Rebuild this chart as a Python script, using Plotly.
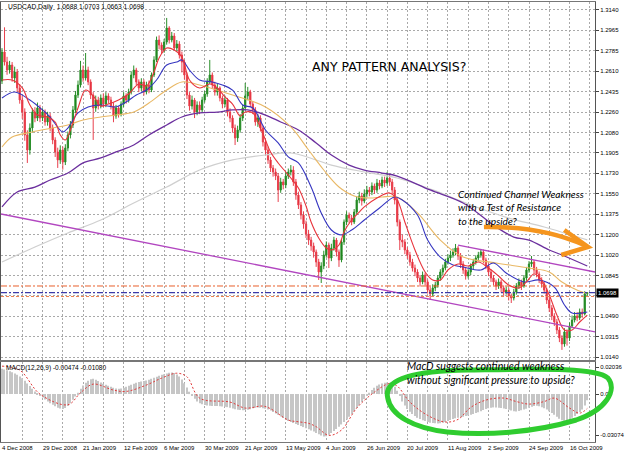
import plotly.graph_objects as go

# ---------------- DATA ----------------
closes = [1.2777, 1.2690, 1.2621, 1.2664, 1.2552, 1.2604, 1.2466, 1.2362, 1.2258, 1.2060,
1.1930, 1.2120, 1.2258, 1.2206, 1.2293, 1.2206, 1.2258, 1.2172, 1.2224, 1.2120,
1.2016, 1.1913, 1.1844, 1.1930, 1.1826, 1.1947, 1.2060, 1.2146, 1.2276, 1.2405,
1.2492, 1.2621, 1.2552, 1.2621, 1.2518, 1.2405, 1.2293, 1.2362, 1.2310, 1.2379,
1.2327, 1.2397, 1.2362, 1.2310, 1.2224, 1.2293, 1.2241, 1.2327, 1.2397, 1.2362,
1.2431, 1.2578, 1.2621, 1.2518, 1.2466, 1.2518, 1.2431, 1.2492, 1.2448, 1.2578,
1.2708, 1.2880, 1.2837, 1.2794, 1.2863, 1.2984, 1.2880, 1.2915, 1.2811, 1.2846,
1.2751, 1.2690, 1.2578, 1.2405, 1.2310, 1.2362, 1.2258, 1.2319, 1.2276, 1.2362,
1.2414, 1.2518, 1.2578, 1.2492, 1.2431, 1.2466, 1.2379, 1.2327, 1.2362, 1.2258,
1.2206, 1.2120, 1.2034, 1.2103, 1.2206, 1.2293, 1.2397, 1.2431, 1.2327, 1.2276,
1.2172, 1.2206, 1.2120, 1.1999, 1.1930, 1.1844, 1.1774, 1.1740, 1.1705, 1.1584,
1.1654, 1.1628, 1.1705, 1.1740, 1.1757, 1.1654, 1.1541, 1.1455, 1.1368, 1.1291,
1.1204, 1.1152, 1.1101, 1.1049, 1.0962, 1.0876, 1.0928, 1.1023, 1.1109, 1.0997,
1.1083, 1.1152, 1.1049, 1.0980, 1.1135, 1.1308, 1.1368, 1.1342, 1.1308, 1.1394,
1.1498, 1.1533, 1.1489, 1.1550, 1.1584, 1.1567, 1.1619, 1.1584, 1.1645, 1.1619,
1.1671, 1.1645, 1.1688, 1.1654, 1.1584, 1.1498, 1.1308, 1.1152, 1.1135, 1.1066,
1.1023, 1.0962, 1.0910, 1.0876, 1.0824, 1.0790, 1.0850, 1.0790, 1.0720, 1.0686,
1.0738, 1.0764, 1.0824, 1.0876, 1.0910, 1.0962, 1.0997, 1.1023, 1.1049, 1.1083,
1.1014, 1.0945, 1.0893, 1.0841, 1.0876, 1.0928, 1.0962, 1.0997, 1.1023, 1.1049,
1.0980, 1.0928, 1.0876, 1.0824, 1.0790, 1.0755, 1.0790, 1.0738, 1.0703, 1.0720,
1.0669, 1.0651, 1.0703, 1.0755, 1.0790, 1.0755, 1.0824, 1.0893, 1.0945, 1.0962,
1.0893, 1.0859, 1.0807, 1.0772, 1.0720, 1.0634, 1.0565, 1.0496, 1.0444, 1.0375,
1.0306, 1.0254, 1.0358, 1.0306, 1.0410, 1.0461, 1.0496, 1.0479, 1.0530, 1.0513,
1.0688, 1.0698]

opens = [1.2526, 1.2777, 1.2690, 1.2621, 1.2664, 1.2552, 1.2604, 1.2466, 1.2362, 1.2258,
1.2060, 1.1930, 1.2120, 1.2258, 1.2206, 1.2293, 1.2206, 1.2258, 1.2172, 1.2224,
1.2120, 1.2016, 1.1913, 1.1844, 1.1930, 1.1826, 1.1947, 1.2060, 1.2146, 1.2276,
1.2405, 1.2492, 1.2621, 1.2552, 1.2621, 1.2518, 1.2405, 1.2293, 1.2362, 1.2310,
1.2379, 1.2327, 1.2397, 1.2362, 1.2310, 1.2224, 1.2293, 1.2241, 1.2327, 1.2397,
1.2362, 1.2431, 1.2578, 1.2621, 1.2518, 1.2466, 1.2518, 1.2431, 1.2492, 1.2448,
1.2578, 1.2708, 1.2880, 1.2837, 1.2794, 1.2863, 1.2984, 1.2880, 1.2915, 1.2811,
1.2846, 1.2751, 1.2690, 1.2578, 1.2405, 1.2310, 1.2362, 1.2258, 1.2319, 1.2276,
1.2362, 1.2414, 1.2518, 1.2578, 1.2492, 1.2431, 1.2466, 1.2379, 1.2327, 1.2362,
1.2258, 1.2206, 1.2120, 1.2034, 1.2103, 1.2206, 1.2293, 1.2397, 1.2431, 1.2327,
1.2276, 1.2172, 1.2206, 1.2120, 1.1999, 1.1930, 1.1844, 1.1774, 1.1740, 1.1705,
1.1584, 1.1654, 1.1628, 1.1705, 1.1740, 1.1757, 1.1654, 1.1541, 1.1455, 1.1368,
1.1291, 1.1204, 1.1152, 1.1101, 1.1049, 1.0962, 1.0876, 1.0928, 1.1023, 1.1109,
1.0997, 1.1083, 1.1152, 1.1049, 1.0980, 1.1135, 1.1308, 1.1368, 1.1342, 1.1308,
1.1394, 1.1498, 1.1533, 1.1489, 1.1550, 1.1584, 1.1567, 1.1619, 1.1584, 1.1645,
1.1619, 1.1671, 1.1645, 1.1688, 1.1654, 1.1584, 1.1498, 1.1308, 1.1152, 1.1135,
1.1066, 1.1023, 1.0962, 1.0910, 1.0876, 1.0824, 1.0790, 1.0850, 1.0790, 1.0720,
1.0686, 1.0738, 1.0764, 1.0824, 1.0876, 1.0910, 1.0962, 1.0997, 1.1023, 1.1049,
1.1083, 1.1014, 1.0945, 1.0893, 1.0841, 1.0876, 1.0928, 1.0962, 1.0997, 1.1023,
1.1049, 1.0980, 1.0928, 1.0876, 1.0824, 1.0790, 1.0755, 1.0790, 1.0738, 1.0703,
1.0720, 1.0669, 1.0651, 1.0703, 1.0755, 1.0790, 1.0755, 1.0824, 1.0893, 1.0945,
1.0962, 1.0893, 1.0859, 1.0807, 1.0772, 1.0720, 1.0634, 1.0565, 1.0496, 1.0444,
1.0375, 1.0306, 1.0254, 1.0358, 1.0306, 1.0410, 1.0461, 1.0496, 1.0479, 1.0530,
1.0513, 1.0688]

highs = [1.2810, 1.2990, 1.2735, 1.2700, 1.2690, 1.2650, 1.2630, 1.2500, 1.2400, 1.2290,
1.2100, 1.2160, 1.2290, 1.2300, 1.2340, 1.2320, 1.2290, 1.2280, 1.2260, 1.2250,
1.2150, 1.2040, 1.1950, 1.1970, 1.1960, 1.1980, 1.2090, 1.2180, 1.2310, 1.2440,
1.2530, 1.2700, 1.2660, 1.2768, 1.2650, 1.2540, 1.2430, 1.2400, 1.2390, 1.2410,
1.2420, 1.2430, 1.2420, 1.2390, 1.2340, 1.2320, 1.2310, 1.2350, 1.2430, 1.2420,
1.2460, 1.2610, 1.2660, 1.2640, 1.2540, 1.2550, 1.2540, 1.2520, 1.2530, 1.2600,
1.2740, 1.2910, 1.2920, 1.2860, 1.2890, 1.3071, 1.3000, 1.2950, 1.2940, 1.2880,
1.2870, 1.2780, 1.2710, 1.2600, 1.2430, 1.2400, 1.2380, 1.2350, 1.2350, 1.2390,
1.2440, 1.2550, 1.2708, 1.2600, 1.2520, 1.2500, 1.2480, 1.2400, 1.2400, 1.2380,
1.2290, 1.2230, 1.2150, 1.2140, 1.2240, 1.2320, 1.2509, 1.2475, 1.2450, 1.2350,
1.2300, 1.2240, 1.2230, 1.2140, 1.2030, 1.1960, 1.1870, 1.1800, 1.1770, 1.1730,
1.1690, 1.1680, 1.1740, 1.1770, 1.1800, 1.1790, 1.1680, 1.1570, 1.1480, 1.1400,
1.1320, 1.1240, 1.1180, 1.1130, 1.1070, 1.0990, 1.0960, 1.1060, 1.1140, 1.1130,
1.1120, 1.1180, 1.1170, 1.1070, 1.1160, 1.1330, 1.1400, 1.1390, 1.1370, 1.1420,
1.1530, 1.1570, 1.1560, 1.1590, 1.1620, 1.1610, 1.1650, 1.1640, 1.1680, 1.1670,
1.1700, 1.1700, 1.1740, 1.1720, 1.1680, 1.1610, 1.1520, 1.1330, 1.1200, 1.1160,
1.1090, 1.1050, 1.0990, 1.0940, 1.0900, 1.0850, 1.0880, 1.0870, 1.0810, 1.0750,
1.0770, 1.0790, 1.0850, 1.0900, 1.0940, 1.0990, 1.1030, 1.1060, 1.1080, 1.1118,
1.1100, 1.1040, 1.0970, 1.0920, 1.0900, 1.0950, 1.0990, 1.1020, 1.1050, 1.1075,
1.1070, 1.1000, 1.0950, 1.0900, 1.0850, 1.0810, 1.0820, 1.0810, 1.0760, 1.0750,
1.0740, 1.0690, 1.0730, 1.0780, 1.0820, 1.0810, 1.0850, 1.0920, 1.0970, 1.1014,
1.0980, 1.0920, 1.0880, 1.0830, 1.0790, 1.0740, 1.0660, 1.0590, 1.0520, 1.0470,
1.0400, 1.0330, 1.0390, 1.0380, 1.0440, 1.0500, 1.0530, 1.0530, 1.0560, 1.0560,
1.0710, 1.0703]

lows = [1.2500, 1.2660, 1.2580, 1.2590, 1.2520, 1.2510, 1.2430, 1.2330, 1.2200, 1.2010,
1.1818, 1.1890, 1.2080, 1.2170, 1.2180, 1.2170, 1.2180, 1.2140, 1.2140, 1.2090,
1.1980, 1.1870, 1.1775, 1.1810, 1.1760, 1.1800, 1.1920, 1.2030, 1.2120, 1.2250,
1.2380, 1.2470, 1.2520, 1.2530, 1.2490, 1.2370, 1.2017, 1.2260, 1.2280, 1.2290,
1.2300, 1.2300, 1.2330, 1.2280, 1.2170, 1.2200, 1.2210, 1.2220, 1.2300, 1.2330,
1.2340, 1.2410, 1.2550, 1.2490, 1.2430, 1.2440, 1.2400, 1.2410, 1.2420, 1.2430,
1.2560, 1.2690, 1.2800, 1.2760, 1.2770, 1.2840, 1.2850, 1.2860, 1.2790, 1.2780,
1.2720, 1.2600, 1.2540, 1.2370, 1.2270, 1.2280, 1.2206, 1.2230, 1.2240, 1.2250,
1.2340, 1.2390, 1.2500, 1.2460, 1.2400, 1.2400, 1.2350, 1.2290, 1.2300, 1.2220,
1.2170, 1.2080, 1.1973, 1.2000, 1.2080, 1.2180, 1.2270, 1.2360, 1.2300, 1.2240,
1.2140, 1.2130, 1.2090, 1.1960, 1.1890, 1.1810, 1.1740, 1.1700, 1.1670, 1.1481,
1.1560, 1.1590, 1.1600, 1.1680, 1.1710, 1.1620, 1.1500, 1.1420, 1.1330, 1.1250,
1.1170, 1.1110, 1.1060, 1.1000, 1.0920, 1.0807, 1.0781, 1.0900, 1.1000, 1.0910,
1.0970, 1.1060, 1.1010, 1.0920, 1.0960, 1.1110, 1.1280, 1.1300, 1.1280, 1.1290,
1.1370, 1.1470, 1.1450, 1.1470, 1.1520, 1.1530, 1.1540, 1.1550, 1.1560, 1.1590,
1.1600, 1.1610, 1.1620, 1.1620, 1.1550, 1.1460, 1.1270, 1.1066, 1.1090, 1.1030,
1.0990, 1.0930, 1.0880, 1.0840, 1.0790, 1.0750, 1.0770, 1.0760, 1.0690, 1.0634,
1.0660, 1.0710, 1.0740, 1.0800, 1.0850, 1.0890, 1.0940, 1.0970, 1.1000, 1.1020,
1.0980, 1.0910, 1.0860, 1.0810, 1.0820, 1.0850, 1.0900, 1.0940, 1.0970, 1.1000,
1.0950, 1.0900, 1.0840, 1.0790, 1.0760, 1.0720, 1.0730, 1.0700, 1.0670, 1.0680,
1.0630, 1.0608, 1.0630, 1.0680, 1.0730, 1.0720, 1.0740, 1.0800, 1.0870, 1.0920,
1.0860, 1.0830, 1.0780, 1.0740, 1.0690, 1.0600, 1.0530, 1.0460, 1.0410, 1.0340,
1.0270, 1.0203, 1.0230, 1.0240, 1.0280, 1.0390, 1.0440, 1.0450, 1.0460, 1.0480,
1.0500, 1.0663]

# moving averages (bar index, price)
red_ma_i = [0, 4, 8, 11, 14, 18, 21, 23, 25, 27, 30, 33, 36, 39, 42, 46, 50, 54, 57, 60, 62, 65, 68, 71, 74, 78,
            82, 85, 88, 91, 94, 96, 99, 101, 104, 106, 109, 112, 114, 117, 120, 122, 125, 128, 130, 133, 135, 138,
            141, 143, 148, 153, 156, 159, 163, 167, 170, 173, 176, 180, 184, 188, 192, 196, 200, 204, 207, 210, 213,
            216, 219, 222, 225, 228, 231]
red_ma_v = [1.2535, 1.2535, 1.2466, 1.2319, 1.2232, 1.2215, 1.2172, 1.2060, 1.2016, 1.2103, 1.2293, 1.2448, 1.2397,
            1.2310, 1.2327, 1.2362, 1.2414, 1.2500, 1.2483, 1.2604, 1.2725, 1.2811, 1.2794, 1.2734, 1.2535, 1.2466,
            1.2500, 1.2466, 1.2388, 1.2327, 1.2224, 1.2258, 1.2250, 1.2172, 1.2016, 1.1913, 1.1818, 1.1740, 1.1688,
            1.1602, 1.1446, 1.1308, 1.1170, 1.1083, 1.1066, 1.1109, 1.1222, 1.1325, 1.1394, 1.1438, 1.1515, 1.1559,
            1.1498, 1.1308, 1.1066, 1.0876, 1.0807, 1.0807, 1.0893, 1.0945, 1.0928, 1.0962, 1.0910, 1.0841, 1.0764,
            1.0738, 1.0790, 1.0859, 1.0807, 1.0677, 1.0504, 1.0375, 1.0375, 1.0444, 1.0504]

blue_ma_i = [0, 5, 11, 16, 19, 24, 26, 30, 34, 39, 45, 49, 53, 57, 61, 65, 69, 71, 74, 78, 83, 87, 91, 95, 99, 104,
             109, 113, 117, 122, 126, 130, 134, 138, 143, 149, 155, 158, 164, 168, 173, 178, 182, 189, 194, 199, 206,
             212, 218, 222, 225, 231]
blue_ma_v = [1.2379, 1.2431, 1.2362, 1.2276, 1.2215, 1.2086, 1.2120, 1.2250, 1.2302, 1.2319, 1.2302, 1.2345, 1.2405,
             1.2448, 1.2535, 1.2664, 1.2690, 1.2708, 1.2621, 1.2535, 1.2518, 1.2492, 1.2448, 1.2319, 1.2293, 1.2103,
             1.1991, 1.1870, 1.1818, 1.1610, 1.1386, 1.1239, 1.1196, 1.1239, 1.1325, 1.1429, 1.1524, 1.1498, 1.1368,
             1.1152, 1.1005, 1.0936, 1.0919, 1.0893, 1.0954, 1.0867, 1.0790, 1.0807, 1.0746, 1.0591, 1.0522, 1.0530]

tan_ma_i = [0, 4, 12, 20, 26, 32, 39, 45, 52, 58, 65, 71, 78, 91, 104, 114, 121, 127, 133, 139, 145, 150, 156, 164,
            173, 182, 195, 208, 216, 221, 229, 231]
tan_ma_v = [1.1956, 1.2042, 1.2086, 1.2120, 1.2146, 1.2189, 1.2215, 1.2232, 1.2258, 1.2336, 1.2448, 1.2518, 1.2492,
            1.2405, 1.2302, 1.2129, 1.1930, 1.1757, 1.1610, 1.1533, 1.1515, 1.1524, 1.1524, 1.1386, 1.1152, 1.1005,
            1.0954, 1.0910, 1.0876, 1.0790, 1.0703, 1.0694]

purple_ma_i = [0, 6, 13, 19, 26, 32, 39, 45, 52, 58, 65, 71, 78, 85, 91, 97, 104, 110, 117, 124, 130, 137, 143, 150,
               156, 169, 182, 195, 202, 208, 216, 221, 231]
purple_ma_v = [1.1438, 1.1567, 1.1610, 1.1671, 1.1731, 1.1818, 1.1861, 1.1913, 1.1973, 1.2060, 1.2146, 1.2215, 1.2250,
               1.2258, 1.2276, 1.2276, 1.2232, 1.2172, 1.2103, 1.1991, 1.1887, 1.1800, 1.1757, 1.1731, 1.1705, 1.1585,
               1.1472, 1.1265, 1.1178, 1.1152, 1.1066, 1.1023, 1.0928]

gray_ma_i = [0, 13, 26, 39, 52, 65, 78, 91, 104, 114, 124, 130, 143, 156, 170, 185, 200, 214, 231]
gray_ma_v = [1.0962, 1.1092, 1.1213, 1.1325, 1.1472, 1.1610, 1.1757, 1.1844, 1.1887, 1.1904, 1.1844, 1.1800, 1.1740,
             1.1688, 1.1585, 1.1455, 1.1342, 1.1265, 1.1153]

# trend lines (bar index, price)
trend_low_i = [-0.4, 234.1]
trend_low_v = [1.1377, 1.0358]
trend_up_i = [180.0, 234.1]
trend_up_v = [1.1109, 1.0876]

# horizontal levels
level_dashdot = 1.0755
level_bid = 1.0698
level_dotted = 1.0664

# MACD histogram (main) and signal
macd_hist = [0.0190, 0.0185, 0.0180, 0.0172, 0.0165, 0.0155, 0.0145, 0.0132, 0.0120, 0.0100,
0.0080, 0.0060, 0.0040, 0.0020, 0.0005, -0.0010, -0.0025, -0.0040, -0.0055, -0.0068,
-0.0080, -0.0092, -0.0102, -0.0108, -0.0112, -0.0105, -0.0090, -0.0068, -0.0042, -0.0018,
0.0010, 0.0040, 0.0065, 0.0085, 0.0100, 0.0112, 0.0115, 0.0108, 0.0098, 0.0088,
0.0078, 0.0070, 0.0062, 0.0055, 0.0048, 0.0042, 0.0040, 0.0042, 0.0048, 0.0055,
0.0062, 0.0070, 0.0078, 0.0085, 0.0090, 0.0094, 0.0098, 0.0102, 0.0108, 0.0115,
0.0122, 0.0130, 0.0138, 0.0145, 0.0150, 0.0155, 0.0160, 0.0162, 0.0158, 0.0148,
0.0132, 0.0110, 0.0082, 0.0050, 0.0018, -0.0010, -0.0035, -0.0055, -0.0068, -0.0076,
-0.0082, -0.0086, -0.0088, -0.0089, -0.0090, -0.0090, -0.0091, -0.0093, -0.0095, -0.0098,
-0.0102, -0.0108, -0.0114, -0.0118, -0.0120, -0.0121, -0.0120, -0.0118, -0.0113, -0.0107,
-0.0102, -0.0100, -0.0102, -0.0106, -0.0110, -0.0115, -0.0124, -0.0134, -0.0145, -0.0156,
-0.0168, -0.0180, -0.0192, -0.0202, -0.0210, -0.0218, -0.0225, -0.0232, -0.0240, -0.0248,
-0.0256, -0.0264, -0.0273, -0.0282, -0.0292, -0.0302, -0.0312, -0.0318, -0.0316, -0.0305,
-0.0292, -0.0278, -0.0262, -0.0245, -0.0228, -0.0210, -0.0190, -0.0170, -0.0150, -0.0128,
-0.0105, -0.0082, -0.0060, -0.0036, -0.0012, 0.0010, 0.0030, 0.0048, 0.0062, 0.0072,
0.0080, 0.0085, 0.0088, 0.0086, 0.0075, 0.0055, 0.0025, -0.0015, -0.0055, -0.0085,
-0.0112, -0.0132, -0.0150, -0.0165, -0.0178, -0.0188, -0.0196, -0.0203, -0.0210, -0.0215,
-0.0218, -0.0220, -0.0221, -0.0220, -0.0216, -0.0210, -0.0202, -0.0195, -0.0188, -0.0182,
-0.0178, -0.0174, -0.0170, -0.0165, -0.0160, -0.0155, -0.0150, -0.0143, -0.0136, -0.0128,
-0.0120, -0.0112, -0.0106, -0.0102, -0.0100, -0.0100, -0.0102, -0.0105, -0.0108, -0.0112,
-0.0118, -0.0124, -0.0128, -0.0130, -0.0127, -0.0122, -0.0116, -0.0110, -0.0102, -0.0095,
-0.0090, -0.0088, -0.0092, -0.0098, -0.0106, -0.0115, -0.0128, -0.0142, -0.0155, -0.0170,
-0.0185, -0.0196, -0.0200, -0.0198, -0.0190, -0.0178, -0.0164, -0.0150, -0.0135, -0.0115,
-0.0085, -0.0047]

signal_i = [0, 7, 15, 26, 31, 36, 44, 49, 57, 63, 69, 73, 78, 90, 96, 103, 106, 113, 117, 121, 124, 129, 134, 140,
            147, 153, 156, 161, 168, 175, 180, 185, 191, 198, 203, 208, 214, 218, 224, 228, 231]
signal_v = [0.0210, 0.0180, 0.0000, -0.0080, 0.0010, 0.0075, 0.0030, 0.0020, 0.0068, 0.0120, 0.0157, 0.0130,
            -0.0030, -0.0060, -0.0105, -0.0090, -0.0110, -0.0195, -0.0208, -0.0220, -0.0245, -0.0310, -0.0270,
            -0.0105, 0.0015, 0.0080, 0.0060, -0.0060, -0.0160, -0.0210, -0.0190, -0.0100, -0.0045, -0.0030,
            -0.0056, -0.0075, -0.0056, -0.0030, -0.0105, -0.0143, -0.0108]

# axis labels (the 1.0670 label sits under the current-price box, as in the reference)
price_tickvals = [1.0140, 1.03165, 1.04929, 1.06694, 1.08459, 1.10224, 1.11988, 1.13753, 1.15518,
                  1.17282, 1.19047, 1.20812, 1.22576, 1.24341, 1.26106, 1.27871, 1.29635, 1.3140]
price_ticktext = ["1.0140", "1.0315", "1.0490", "", "1.0845", "1.1020", "1.1200", "1.1375", "1.1550",
                  "1.1730", "1.1905", "1.2080", "1.2260", "1.2435", "1.2610", "1.2785", "1.2965", "1.3140"]
macd_tickvals = [0.02036, 0.0, -0.03074]
macd_ticktext = ["0.02036", "0.00", "-0.03074"]
date_label_bars = [0, 16, 32, 48, 64, 80, 96, 112, 128, 144, 160, 176, 192, 208, 224]
date_labels = ["4 Dec 2008", "29 Dec 2008", "21 Jan 2009", "12 Feb 2009", "6 Mar 2009", "30 Mar 2009",
               "21 Apr 2009", "13 May 2009", "4 Jun 2009", "26 Jun 2009", "20 Jul 2009", "11 Aug 2009",
               "2 Sep 2009", "24 Sep 2009", "16 Oct 2009"]

channel_note = ["Continued Channel Weakness", "with a Test of Resistance", "to the upside?"]
macd_note = ["MacD suggests continued weakness", "without significant pressure to upside?"]

# ---------------- LAYOUT GEOMETRY ----------------
W, H = 625, 452
PL, PR, PT, PB = 0, 599, 2, 442
MAIN_BOTTOM_PX, MACD_TOP_PX = 360, 362


def px_x(x):
    return (x - PL) / (PR - PL)


def px_y(y):
    return (PB - y) / (PB - PT)


def path_px(parts):
    out = []
    for p in parts:
        if isinstance(p, str):
            out.append(p)
        else:
            out.append(f"{px_x(p[0]):.5f},{px_y(p[1]):.5f}")
    return " ".join(out)


TICK_FONT = dict(family="Liberation Sans", size=6, color="black")
GRID = dict(showgrid=True, gridcolor="#a9a9a9", griddash="2px,2px", gridwidth=1)

bars = list(range(len(closes)))

fig = go.Figure()

fig.add_trace(go.Candlestick(
    x=bars, open=opens, high=highs, low=lows, close=closes,
    increasing=dict(line=dict(color="#2a8f2a", width=1), fillcolor="#0c780c"),
    decreasing=dict(line=dict(color="#e8404e", width=1), fillcolor="#e4161f"),
    whiskerwidth=0, xaxis="x", yaxis="y", showlegend=False, hoverinfo="skip"))

for xs, ys, col, w in [
    (gray_ma_i, gray_ma_v, "#cfcfcf", 1.2),
    (purple_ma_i, purple_ma_v, "#6b2f9e", 1.3),
    (tan_ma_i, tan_ma_v, "#e9b865", 1.1),
    (blue_ma_i, blue_ma_v, "#3535c0", 1.1),
    (red_ma_i, red_ma_v, "#e8343c", 1.1),
]:
    fig.add_trace(go.Scatter(x=xs, y=ys, mode="lines", line=dict(color=col, width=w, shape="spline"),
                             xaxis="x", yaxis="y", showlegend=False, hoverinfo="skip"))

for xs, ys in [(trend_low_i, trend_low_v), (trend_up_i, trend_up_v)]:
    fig.add_trace(go.Scatter(x=xs, y=ys, mode="lines", line=dict(color="#b246c0", width=1.3),
                             xaxis="x", yaxis="y", showlegend=False, hoverinfo="skip"))

fig.add_trace(go.Bar(x=bars, y=macd_hist, width=0.42, marker=dict(color="#c6c6c6", line=dict(width=0)),
                     xaxis="x2", yaxis="y2", showlegend=False, hoverinfo="skip"))
fig.add_trace(go.Scatter(x=signal_i, y=signal_v, mode="lines",
                         line=dict(color="#e23a3a", width=1, dash="2px,2px", shape="spline"),
                         xaxis="x2", yaxis="y2", showlegend=False, hoverinfo="skip"))

shapes = [
    dict(type="line", xref="paper", yref="y", x0=0, x1=1, y0=level_dashdot, y1=level_dashdot,
         line=dict(color="#e8602c", width=1, dash="6px,2px,2px,2px")),
    dict(type="line", xref="paper", yref="y", x0=0, x1=1, y0=level_bid, y1=level_bid,
         line=dict(color="#3a3aa8", width=1.3, dash="6px,2px,2px,2px")),
    dict(type="line", xref="paper", yref="y", x0=0, x1=1, y0=level_dotted, y1=level_dotted,
         line=dict(color="#ee8050", width=1, dash="3px,2px")),
    # orange arrow
    dict(type="path", xref="paper", yref="paper",
         path=path_px(["M", (487, 227), "Q", (545, 226), (588, 245)]),
         line=dict(color="#f5951e", width=4.5), layer="above"),
    dict(type="path", xref="paper", yref="paper",
         path=path_px(["M", (568, 230), "L", (592, 247), "L", (565, 255)]),
         line=dict(color="#f5951e", width=4.5), layer="above"),
    # green loop around MACD
    dict(type="path", xref="paper", yref="paper",
         path=path_px(["M", (390, 398), "C", (385, 378), (420, 371), (470, 370),
                       "C", (540, 369), (600, 367), (612, 378),
                       "C", (622, 390), (610, 410), (580, 420),
                       "C", (540, 432), (490, 436), (450, 432),
                       "C", (415, 428), (393, 415), (390, 398), "Z"]),
         line=dict(color="#2fcc2f", width=5), layer="above"),
]

annotations = [
    dict(text="USDCAD,Daily\u00a0\u00a01.0688 1.0703 1.0663 1.0698", xref="paper", yref="paper",
         x=px_x(5), y=px_y(7), xanchor="left", yanchor="middle", showarrow=False,
         font=dict(family="Liberation Sans", size=6.7, color="black")),
    dict(text="MACD(12,26,9) -0.00474 -0.01080", xref="paper", yref="paper",
         x=px_x(3), y=px_y(368), xanchor="left", yanchor="middle", showarrow=False,
         font=dict(family="Liberation Sans", size=6.5, color="black")),
    dict(text="ANY PATTERN ANALYSIS?", xref="paper", yref="paper",
         x=px_x(312), y=px_y(66), xanchor="left", yanchor="middle", showarrow=False,
         font=dict(family="DejaVu Sans", size=12.5, color="black")),
    dict(text="1.0698", xref="paper", yref="y", x=1, y=level_bid, xanchor="left", yanchor="middle",
         xshift=1, showarrow=False, bgcolor="black", borderpad=1,
         font=dict(family="Liberation Sans", size=6, color="white")),
    dict(text="<i>" + "<br>".join(channel_note) + "</i>", xref="paper", yref="paper",
         x=px_x(460), y=px_y(207), xanchor="left", yanchor="middle", align="left",
         showarrow=False, borderpad=0, font=dict(family="Lato", size=10.2, color="black")),
    dict(text="<i>" + "<br>".join(macd_note) + "</i>", xref="paper", yref="paper",
         x=px_x(408), y=px_y(372.5), xanchor="left", yanchor="middle", align="left",
         showarrow=False, borderpad=0, font=dict(family="Lato", size=10.6, color="black")),
]
for b, lab in zip(date_label_bars, date_labels):
    annotations.append(dict(text=lab, xref="x2", yref="paper", x=b, y=0, xanchor="left", yanchor="top",
                            xshift=-2, yshift=-1, showarrow=False,
                            font=dict(family="Liberation Sans", size=6, color="black")))

main_dom = [(PB - MAIN_BOTTOM_PX) / (PB - PT), 1.0]
macd_dom = [0.0, (PB - MACD_TOP_PX) / (PB - PT)]

fig.update_layout(
    width=W, height=H,
    margin=dict(l=PL, r=W - PR, t=PT, b=H - PB),
    paper_bgcolor="white", plot_bgcolor="white",
    font=dict(family="Liberation Sans", size=6, color="black"),
    showlegend=False,
    xaxis=dict(domain=[0, 1], anchor="y", range=[-0.39, 234.05], showticklabels=False, ticks="",
               tick0=0, dtick=8, zeroline=False, showline=True, linecolor="#777777", linewidth=1,
               mirror=True, rangeslider=dict(visible=False), fixedrange=True, **GRID),
    xaxis2=dict(domain=[0, 1], anchor="y2", matches="x", range=[-0.39, 234.05], showticklabels=False,
                ticks="", tick0=0, dtick=8, zeroline=False, showline=True, linecolor="#777777",
                linewidth=1, mirror=True, fixedrange=True, **GRID),
    yaxis=dict(domain=main_dom, anchor="x", range=[1.01156, 1.32087], side="right",
               tickmode="array", tickvals=price_tickvals, ticktext=price_ticktext, tickfont=TICK_FONT,
               ticks="outside", ticklen=3, tickcolor="#444444", zeroline=False, showline=True,
               linecolor="#555555", linewidth=1, mirror=True, fixedrange=True, **GRID),
    yaxis2=dict(domain=macd_dom, anchor="x2", range=[-0.0360, 0.02412], side="right",
                tickmode="array", tickvals=macd_tickvals, ticktext=macd_ticktext, tickfont=TICK_FONT,
                ticks="outside", ticklen=3, tickcolor="#444444", showgrid=False, zeroline=False,
                showline=True, linecolor="#555555", linewidth=1, mirror=True, fixedrange=True),
    shapes=shapes,
    annotations=annotations,
)

fig.write_html("out.html")
